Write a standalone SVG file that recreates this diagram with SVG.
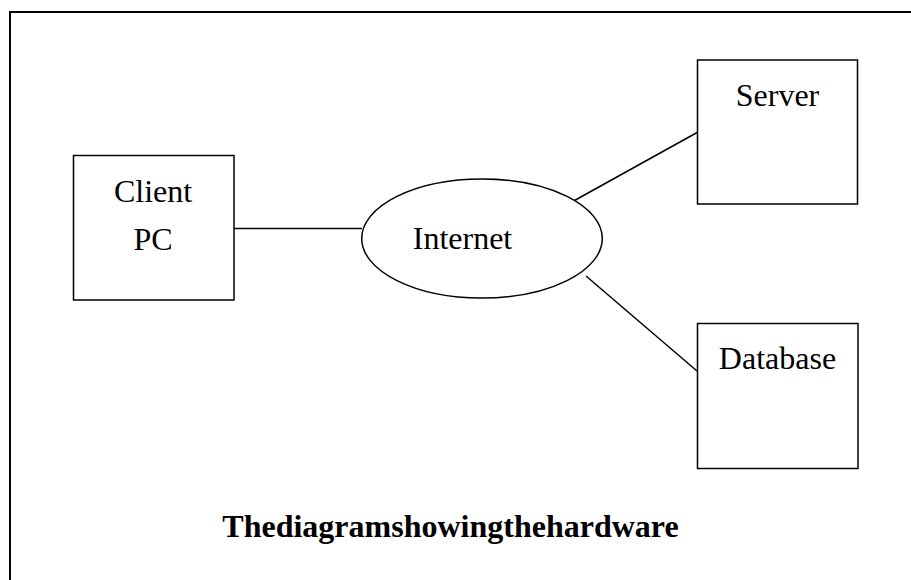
<svg xmlns="http://www.w3.org/2000/svg" width="911" height="580" viewBox="0 0 911 580">
<style>
.box{fill:#fff;stroke:#000;stroke-width:1.5}
.ln{stroke:#000;stroke-width:1.5;fill:none}
.t{font-family:"Liberation Serif","Times New Roman",serif;font-size:32px;fill:#000;text-anchor:middle}
.cap{font-weight:bold}
</style>
<rect x="0" y="0" width="911" height="580" fill="#fff"/>
<rect x="10" y="12" width="920" height="600" fill="none" stroke="#000" stroke-width="2"/>
<g id="connectors">
<line class="ln" x1="234" y1="228.5" x2="362" y2="228.5"/>
<line class="ln" x1="570" y1="203" x2="698" y2="132"/>
<line class="ln" x1="586" y1="276" x2="697" y2="371"/>
</g>
<g id="client">
<rect class="box" x="73.5" y="155.5" width="160.5" height="144.5"/>
<text class="t" x="153" y="202">Client</text>
<text class="t" x="153" y="250">PC</text>
</g>
<g id="internet">
<ellipse class="box" cx="482" cy="238.5" rx="120.3" ry="59.5"/>
<text class="t" x="462.5" y="249">Internet</text>
</g>
<g id="server">
<rect class="box" x="697.5" y="60" width="160" height="144"/>
<text class="t" x="777.5" y="106">Server</text>
</g>
<g id="database">
<rect class="box" x="697.5" y="323.5" width="160.5" height="145"/>
<text class="t" x="777.5" y="369">Database</text>
</g>
<g id="caption">
<text class="t cap" x="450.5" y="537">Thediagramshowingthehardware</text>
</g>
</svg>
